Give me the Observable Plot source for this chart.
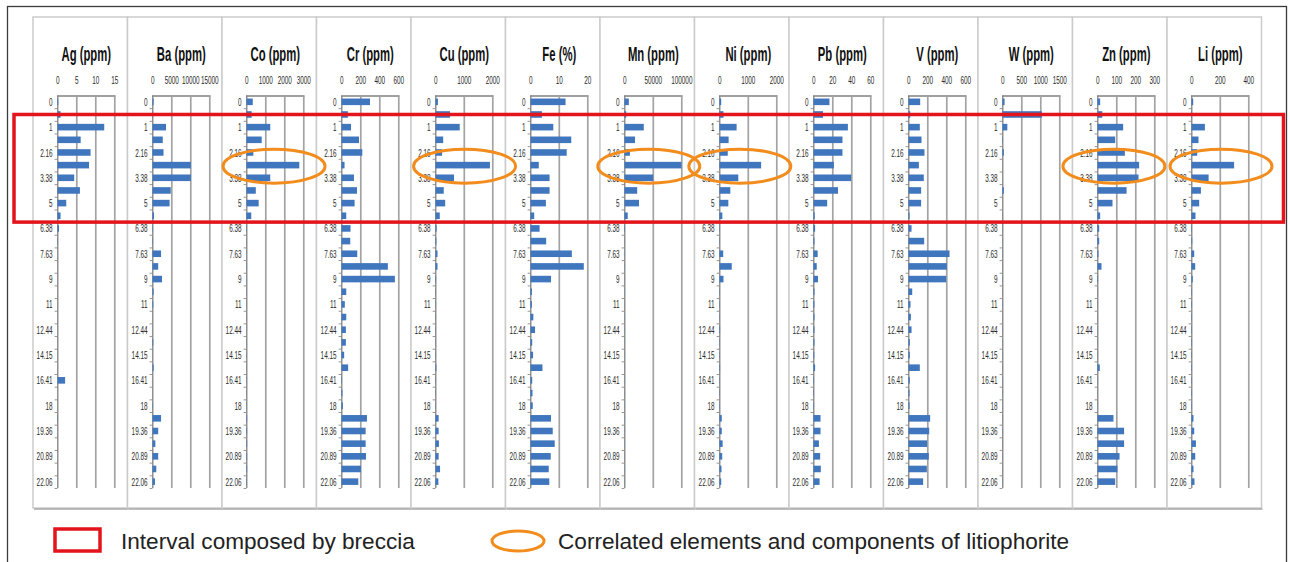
<!DOCTYPE html>
<html>
<head>
<meta charset="utf-8">
<script src="https://cdn.jsdelivr.net/npm/d3@7"></script>
<script src="https://cdn.jsdelivr.net/npm/@observablehq/plot@0.6"></script>
<style>
  html, body { margin: 0; padding: 0; background: #fff; }
  #fig { position: relative; width: 1290px; height: 562px; overflow: hidden; background: #fff;
         font-family: "Liberation Sans", Arial, sans-serif; }
  #fig svg.layer { position: absolute; left: 0; top: 0; }
</style>
</head>
<body>
<div id="fig"></div>
<script>
// Depth of each sample (m); every other row is unlabeled on the axis
const depthLabels = ["0","","1","","2.16","","3.38","","5","","6.38","","7.63","","9","","11","","12.44","","14.15","","16.41","","18","","19.36","","20.89","","22.06"];

// Element concentrations, one value per sample row (top to bottom)
const agPpm = [0.2, 0.8, 12.3, 6.1, 8.7, 8.3, 4.4, 5.9, 2.3, 0.8, 0.4, 0.1, 0, 0, 0, 0, 0, 0, 0, 0, 0, 0, 2.0, 0, 0, 0.1, 0, 0, 0, 0, 0];
const baPpm = [300, 100, 3560, 2700, 2900, 10100, 10100, 4800, 4500, 400, 100, 100, 2250, 1500, 2500, 300, 200, 0, 0, 200, 0, 300, 0, 0, 100, 2250, 1500, 750, 1500, 1000, 650];
const coPpm = [330, 270, 1250, 800, 360, 2780, 1250, 490, 640, 250, 20, 10, 10, 15, 10, 10, 10, 10, 10, 10, 10, 10, 10, 10, 10, 30, 30, 30, 30, 30, 20];
const crPpm = [300, 67, 100, 184, 219, 32, 131, 163, 138, 50, 95, 92, 166, 488, 562, 50, 35, 50, 46, 46, 28, 70, 5, 10, 15, 268, 254, 254, 258, 205, 177];
const cuPpm = [85, 510, 850, 270, 230, 1910, 650, 290, 340, 150, 40, 30, 70, 70, 20, 10, 10, 10, 10, 10, 10, 30, 10, 10, 10, 110, 110, 120, 110, 160, 100];
const fePct = [12.3, 4.0, 8.0, 14.3, 12.7, 2.9, 6.7, 6.7, 5.4, 1.3, 3.2, 5.5, 14.5, 18.7, 7.2, 0.5, 0.5, 1.0, 1.6, 0.6, 0.9, 4.2, 0.6, 0.7, 0.8, 7.2, 7.8, 8.5, 7.1, 6.4, 6.6];
const mnPpm = [7600, 3000, 33800, 18500, 9500, 100000, 50300, 22300, 25500, 5700, 800, 300, 300, 300, 300, 300, 300, 300, 300, 300, 300, 300, 300, 300, 300, 300, 300, 300, 300, 300, 300];
const niPpm = [60, 140, 600, 320, 290, 1460, 660, 380, 310, 100, 10, 10, 130, 430, 140, 10, 10, 10, 20, 10, 10, 20, 10, 10, 10, 80, 80, 110, 95, 70, 60];
const pbPpm = [16.8, 10, 36.2, 30.5, 30.5, 21.5, 39.6, 25.8, 14.4, 1.3, 1.7, 1.0, 4.4, 3.4, 4.7, 1.0, 1.0, 1.0, 1.0, 1.0, 0.8, 1.7, 0.5, 0.5, 0.5, 7.4, 7.4, 5.7, 7.0, 7.7, 6.4];
const vPpm  = [123, 18, 119, 137, 168, 109, 161, 133, 133, 11, 32, 165, 432, 404, 396, 39, 21, 25, 32, 14, 14, 119, 14, 11, 11, 228, 218, 196, 214, 193, 154];
const wPpm  = [55, 1036, 127, 10, 36, 0, 0, 36, 0, 5, 5, 5, 5, 5, 5, 5, 5, 5, 5, 5, 5, 5, 5, 5, 5, 5, 5, 5, 5, 5, 5];
const znPpm = [14, 25, 135, 93, 144, 219, 216, 153, 79, 14, 9, 9, 5, 21, 3, 1, 1, 1, 1, 1, 1, 12, 1, 1, 1, 84, 140, 140, 116, 105, 93];
const liPpm = [12, 3, 94, 49, 40, 299, 120, 66, 54, 28, 3, 5, 19, 26, 9, 3, 3, 3, 3, 3, 3, 3, 3, 3, 3, 14, 19, 31, 26, 14, 21];

// Panel titles and their top-axis tick values
const titles = ["Ag (ppm)", "Ba (ppm)", "Co (ppm)", "Cr (ppm)", "Cu (ppm)", "Fe (%)", "Mn (ppm)", "Ni (ppm)", "Pb (ppm)", "V (ppm)", "W (ppm)", "Zn (ppm)", "Li (ppm)"];
const series = [agPpm, baPpm, coPpm, crPpm, cuPpm, fePct, mnPpm, niPpm, pbPpm, vPpm, wPpm, znPpm, liPpm];
const tickSets = [
  [0, 5, 10, 15], [0, 5000, 10000, 15000], [0, 1000, 2000, 3000], [0, 200, 400, 600],
  [0, 1000, 2000], [0, 10, 20], [0, 50000, 100000], [0, 1000, 2000], [0, 20, 40, 60],
  [0, 200, 400, 600], [0, 500, 1000, 1500], [0, 100, 200, 300], [0, 200, 400]
];

// Breccia interval (row indices) and elements correlated with lithiophorite (circled at one row)
const brecciaRows = [1, 9];
const correlatedRow = 5;
const correlated = [["Co (ppm)", 1450], ["Cu (ppm)", 1020], ["Mn (ppm)", 42600], ["Ni (ppm)", 730], ["Zn (ppm)", 89], ["Li (ppm)", 207]];

// ---- layout ----
const S = 0.58;              // horizontal condensing of each panel
const PANEL_W = 94.5, FIRST_LEFT = 33;
const H = 510, MT = 95.5, MB = 22;
const ML = 24.5, PW = 57;    // on-screen left margin and plot width inside a panel
const BLUE = "#4076bd";
const rowIndex = d3.range(depthLabels.length);
const step = (H - MT - MB) / rowIndex.length;

const fig = document.getElementById("fig");

// background: outer border and panel boxes
const bg = d3.select(fig).append("svg").attr("class", "layer").attr("width", 1290).attr("height", 562);
bg.append("rect").attr("x", 7.5).attr("y", 6.5).attr("width", 1279).attr("height", 620)
  .attr("fill", "none").attr("stroke", "#3a3a3a").attr("stroke-width", 1.3);
titles.forEach((t, i) => {
  const left = FIRST_LEFT + i * PANEL_W;
  bg.append("rect").attr("x", left).attr("y", 17).attr("width", PANEL_W).attr("height", 491)
    .attr("fill", "#fff").attr("stroke", "#cbcbcb").attr("stroke-width", 1.5);
  bg.append("line").attr("x1", left + 1).attr("x2", left + PANEL_W + 1).attr("y1", 509).attr("y2", 509)
    .attr("stroke", "#a8a8a8").attr("stroke-width", 1.5);
});

const charts = {};
titles.forEach((title, i) => {
  const values = series[i];
  const ticks = tickSets[i];
  const rows = rowIndex.map(k => ({k, v: values[k]}));
  const W = PANEL_W / S;
  const chart = Plot.plot({
    width: W, height: H,
    marginTop: MT, marginBottom: MB,
    marginLeft: ML / S, marginRight: W - (ML + PW) / S,
    style: {background: "transparent", fontFamily: "'Liberation Sans', Arial, sans-serif", overflow: "visible"},
    x: {domain: [0, ticks[ticks.length - 1]], label: null},
    y: {domain: rowIndex, paddingInner: 0.48, paddingOuter: 0.24, round: false, label: null},
    marks: [
      Plot.gridX(ticks.slice(1), {stroke: "#a3a3a3", strokeOpacity: 1, strokeWidth: 1.7 / S}),
      Plot.frame({anchor: "top", stroke: "#a0a0a0", strokeWidth: 2.2}),
      Plot.axisX(ticks, {anchor: "top", label: null, tickSize: 0, tickPadding: 12, tickFormat: d => String(d), fontSize: 11, fill: "#2a2a2a"}),
      Plot.axisY(rowIndex, {anchor: "left", label: null, tickSize: 5, tickFormat: () => "", dy: step / 2, stroke: "#7a7a7a"}),
      Plot.axisY(rowIndex.filter(k => depthLabels[k] !== ""), {anchor: "left", label: null, tickSize: 0, tickPadding: 9, tickFormat: k => depthLabels[k], fontSize: 11, fill: "#2a2a2a"}),
      Plot.ruleX([0], {stroke: "#808080", strokeWidth: 1.3 / S}),
      Plot.barX(rows, {x: "v", y: "k", fill: BLUE}),
      Plot.text([title], {frameAnchor: "top", dy: -49, fontSize: 19.5, fontWeight: "bold", fill: "#111"})
    ]
  });
  chart.style.position = "absolute";
  chart.style.left = (FIRST_LEFT + i * PANEL_W) + "px";
  chart.style.top = "0px";
  chart.style.maxWidth = "none";
  chart.style.transformOrigin = "0 0";
  chart.style.transform = `scaleX(${S})`;
  fig.appendChild(chart);
  charts[title] = {chart, left: FIRST_LEFT + i * PANEL_W};
});

// overlay: breccia interval, correlated-element ellipses and legend
const ov = d3.select(fig).append("svg").attr("class", "layer").attr("width", 1290).attr("height", 562);
const first = charts[titles[0]].chart;
const ys = first.scale("y");
const rowCenter = k => ys.apply(k) + ys.bandwidth / 2;
const yTop = rowCenter(brecciaRows[0]);
const yBottom = rowCenter(brecciaRows[1]) + step / 2;
const lastLeft = charts[titles[titles.length - 1]].left;
ov.append("rect")
  .attr("x", FIRST_LEFT - 19).attr("y", yTop)
  .attr("width", lastLeft + PANEL_W + 22 - (FIRST_LEFT - 19)).attr("height", yBottom - yTop)
  .attr("fill", "none").attr("stroke", "#e3141c").attr("stroke-width", 3.5);

correlated.forEach(([title, v]) => {
  const {chart, left} = charts[title];
  const cx = left + S * chart.scale("x").apply(v);
  ov.append("ellipse").attr("cx", cx).attr("cy", rowCenter(correlatedRow) + 1)
    .attr("rx", 51).attr("ry", 17)
    .attr("fill", "none").attr("stroke", "#f28c1c").attr("stroke-width", 3);
});

const legend = ov.append("g").attr("font-family", "'Liberation Sans', Arial, sans-serif").attr("font-size", 22.6).attr("fill", "#222");
legend.append("rect").attr("x", 55).attr("y", 529).attr("width", 45).attr("height", 22)
  .attr("fill", "none").attr("stroke", "#e3141c").attr("stroke-width", 3.5);
legend.append("text").attr("x", 121).attr("y", 541).attr("dominant-baseline", "central").text("Interval composed by breccia");
legend.append("ellipse").attr("cx", 518).attr("cy", 541).attr("rx", 26).attr("ry", 10)
  .attr("fill", "none").attr("stroke", "#f28c1c").attr("stroke-width", 3);
legend.append("text").attr("x", 558).attr("y", 541).attr("dominant-baseline", "central").text("Correlated elements and components of litiophorite");
</script>
</body>
</html>
